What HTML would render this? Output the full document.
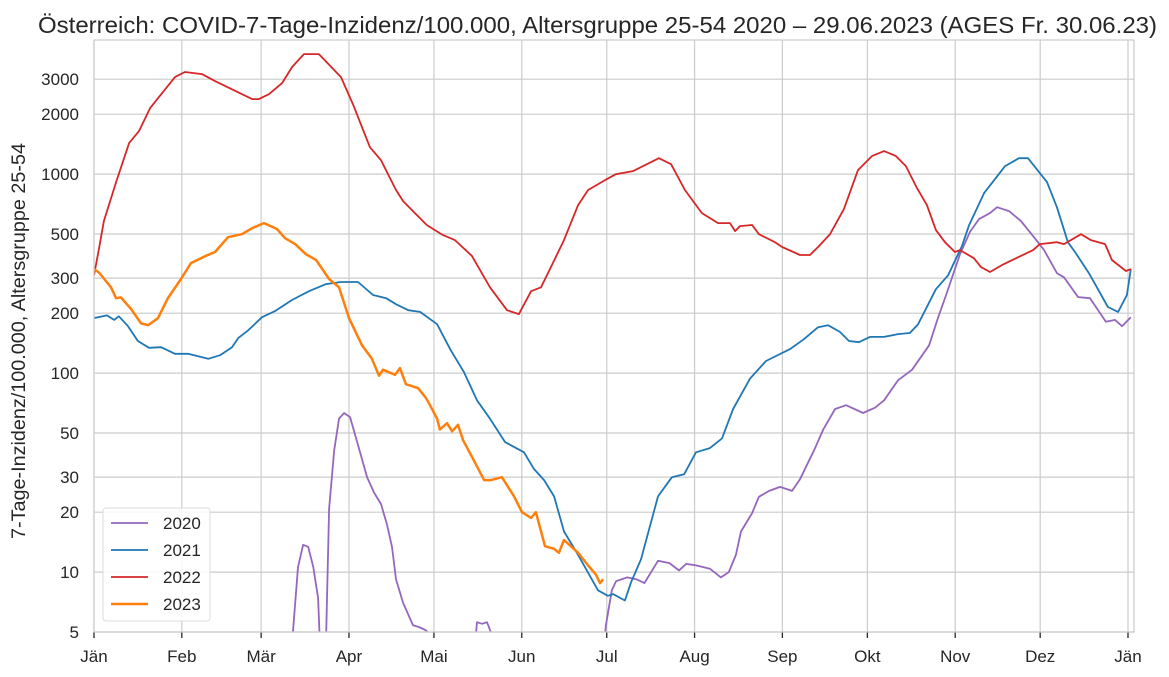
<!DOCTYPE html>
<html><head><meta charset="utf-8"><style>
body{margin:0;background:#fff;}
svg{display:block;font-family:"Liberation Sans",Arial,sans-serif;}
</style></head><body>
<svg id="chart" width="1169" height="677" viewBox="0 0 1169 677">
<defs><clipPath id="pc"><rect x="94" y="40" width="1040" height="592"/></clipPath></defs>
<text x="38" y="33" font-size="23" textLength="1119" lengthAdjust="spacingAndGlyphs" fill="#262626">Österreich: COVID-7-Tage-Inzidenz/100.000, Altersgruppe 25-54 2020 – 29.06.2023 (AGES Fr. 30.06.23)</text>
<text transform="translate(25,341) rotate(-90)" text-anchor="middle" font-size="19.8" fill="#262626">7-Tage-Inzidenz/100.000, Altersgruppe 25-54</text>
<g id="grid"></g>
<g id="series" clip-path="url(#pc)"></g>
<rect x="94" y="40" width="1040" height="592" fill="none" stroke="#cccccc" stroke-width="1.2"/>
<g id="legend"></g>
</svg>
<script>
const yTicks=[5,10,20,30,50,100,200,300,500,1000,2000,3000];
const yTickLabels=["5","10","20","30","50","100","200","300","500","1000","2000","3000"];
const monthDays=[0,31,59,90,120,151,181,212,243,273,304,334,365];
const monthLabels=["Jän","Feb","Mär","Apr","Mai","Jun","Jul","Aug","Sep","Okt","Nov","Dez","Jän"];
const seriesNames=["2020","2021","2022","2023"];
const days2020=[69,72,73.8,75.6,77.4,79.1,80.2,81.6,83,84.8,86.5,88.3,90.4,92.9,96.4,98.9,101.3,103.4,105.2,106.6,109.1,112.6,114.7,117.2,120.7,124,133.5,135.2,137,138.7,139.4,141.2,143.4,179,180.7,182.8,184.3,188.2,191.5,194.3,199.1,203.1,206.5,209,212.5,217.4,221.3,224.1,226.6,228.4,232.3,234.7,238.3,242.2,246.4,249.2,254.2,257.4,261.6,265.5,271.5,275.7,278.9,283.8,288.8,294.8,297.9,300.8,305.7,309.2,312.4,316.3,318.8,323,327.2,331.5,335.4,339.9,342.4,347.4,351.6,357.2,360.4,362.9,366];
const vals2020=[3,10.6,13.7,13.4,10.6,7.4,3,3,20.8,41,59,63,60,45,30,25,22,17.4,13.4,9.2,7.0,5.4,5.3,5.1,4.3,3,3,5.6,5.5,5.6,5.3,4.5,3,3,5.4,8.1,9.0,9.4,9.2,8.8,11.4,11.1,10.2,11.0,10.8,10.4,9.4,10.0,12.2,16,19.8,23.9,25.6,26.8,25.6,29.3,41,52,66,69,63,67,73,92,104,138,189,247,396,512,594,637,682,652,581,488,415,318,303,241,238,181,185,172,191];
const days2021=[0,4.6,7.1,8.8,12,15.5,19.4,23.7,28.6,33.2,40.3,44.5,48.7,50.9,54.4,59.3,63.9,69.9,75.9,81.9,87.2,93.2,98.5,103.1,106.6,110.9,115.1,121.1,125.7,130.6,135.2,139.8,145.1,151.8,155.3,158.9,162.4,165.9,170.9,177.9,181.4,183.2,187.4,189.6,193.1,199.1,204,208.3,212.5,217.4,221.7,225.6,231.6,237.2,245.7,250.6,255.6,259.1,263.3,266.5,270,273.9,278.9,283.8,288,290.9,297.2,301.5,306.4,308.9,314.2,321.6,326.5,329.7,336.4,339.9,343.8,346.3,351.2,357.9,361.5,364.6,366];
const vals2021=[189,195,185,193,172,145,134,135,125,125,118,123,135,150,164,191,205,233,258,280,287,287,247,238,222,207,203,176,132,101,73,59,45,40,33,29,24,16,12.2,8.1,7.6,7.75,7.2,8.9,11.6,24,30,31,40,42,47,66,94,115,132,148,170,174,161,145,143,152,152,157,159,176,264,310,435,554,803,1097,1202,1202,912,682,455,406,318,215,203,247,333];
const days2022=[0,1.8,3.5,7.8,12.4,15.9,19.8,28.6,32.1,38.1,42.7,55.8,58.2,61.8,66.4,69.9,74.1,79.4,87.2,91.4,97.4,101.3,106.6,109.1,114,117.5,123.2,127.4,133.4,139.8,145.8,150,154.3,157.8,161.3,165.9,170.9,174.4,180.4,184.3,190.3,199.4,203.7,208.6,214.6,220.3,224.5,226.3,228,232.3,234.7,240.4,242.9,249.2,252.7,255.6,259.8,264.7,269.7,274.6,278.9,283.1,286.6,290.5,294,297.2,300.4,303.9,305.7,310.6,313.1,316.3,320.5,325.5,331.5,333.9,339.9,342.4,348.4,351.9,356.9,359.3,364.3,366];
const vals2022=[310,425,581,912,1432,1644,2146,3073,3258,3182,2933,2381,2381,2523,2866,3450,4008,4008,3073,2249,1366,1175,832,732,622,554,494,466,388,270,207,198,258,270,341,466,699,832,933,1000,1035,1202,1122,832,637,567,567,517,548,555,499,455,430,392,392,430,499,667,1047,1231,1305,1231,1097,851,699,523,455,406,415,378,341,322,349,378,415,445,455,445,499,466,445,370,326,333];
const days2023=[0,1.8,6,7.8,9.5,13.1,16.6,19.1,22.6,26.1,30.7,34.2,39.2,42.7,47.3,52.2,55.8,60,64.6,67.4,71,74.8,78.4,83,86.5,90,94.6,98.1,100.6,102,106.3,108,110.1,114.4,117.2,118.6,121.1,122.1,124.6,126.4,128.5,130.3,133.4,137.7,140.1,144,148.3,151.1,154.3,156,159.2,162.4,164.1,165.9,170.9,174.4,177.2,178.6,179.7];
const vals2023=[333,320,270,238,240,210,178,174,189,238,297,357,387,406,482,499,535,567,530,477,445,396,370,297,270,189,138,118,97,104,98,106,88,84,75,69,59,52,56,51,55,46,38,29,29,30,24,20,18.7,20,13.5,13.1,12.5,14.5,12.5,10.8,9.7,8.8,9.2];

const NS="http://www.w3.org/2000/svg";
const L=94,R=1134,T=40,B=632,X0=94,XPD=(1128-94)/365;
const YMIN=5,YMAX=4720;
const xS=d=>X0+d*XPD;
const yS=v=>B-(Math.log10(v)-Math.log10(YMIN))/(Math.log10(YMAX)-Math.log10(YMIN))*(B-T);
function mk(tag,attrs,parent){const e=document.createElementNS(NS,tag);for(const k in attrs)e.setAttribute(k,attrs[k]);parent.appendChild(e);return e;}
const grid=document.getElementById('grid');
yTicks.forEach((v,i)=>{
  const y=yS(v);
  const ln=mk('line',{x1:L,x2:R,y1:y,y2:y,stroke:'#cccccc','stroke-width':1.2},grid);
  
  
  const t=mk('text',{x:79,y:y+6,'text-anchor':'end','font-size':17,fill:'#262626'},grid);
  t.textContent=yTickLabels[i];
  
  
});
monthDays.forEach((d,i)=>{
  const x=xS(d);
  const ln=mk('line',{x1:x,x2:x,y1:T,y2:B,stroke:'#cccccc','stroke-width':1.2},grid);
  
  
  const tk=mk('line',{x1:x,x2:x,y1:B,y2:B+6,stroke:'#262626','stroke-width':1.3},grid);
  
  
  const t=mk('text',{x:x,y:B+30,'text-anchor':'middle','font-size':17,fill:'#262626'},grid);
  t.textContent=monthLabels[i];
  
  
});
const colors=['#9467bd','#1f77b4','#d62728','#ff7f0e'];
const widths=[1.8,1.8,1.8,2.5];
const allDays=[days2020,days2021,days2022,days2023];
const allVals=[vals2020,vals2021,vals2022,vals2023];
const sg=document.getElementById('series');
allDays.forEach((ds,si)=>{
  const pts=ds.map((d,i)=>xS(d).toFixed(1)+','+yS(allVals[si][i]).toFixed(1)).join(' ');
  const p=mk('polyline',{points:pts,fill:'none',stroke:colors[si],'stroke-width':widths[si],'stroke-linejoin':'round'},sg);
  
  
});
const lg=document.getElementById('legend');
const box=mk('rect',{x:103,y:508,width:107,height:113,rx:3,fill:'#ffffff','fill-opacity':0.85,stroke:'#dddddd'},lg);


seriesNames.forEach((n,i)=>{
  const y=523+i*27;
  const l=mk('line',{x1:111,x2:148,y1:y,y2:y,stroke:colors[i],'stroke-width':widths[i]},lg);
  
  
  const t=mk('text',{x:163,y:y+6,'font-size':17,fill:'#262626'},lg);
  t.textContent=n;
  
  
});
</script>
</body></html>
